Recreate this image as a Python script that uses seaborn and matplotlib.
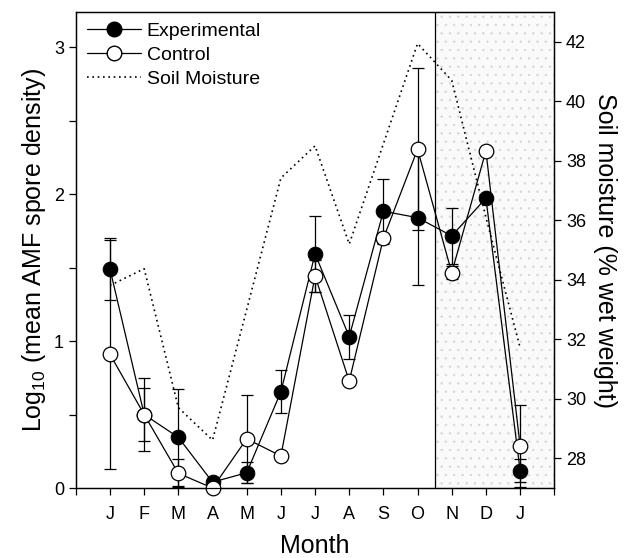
import numpy as np
import pandas as pd
import matplotlib
matplotlib.use("Agg")
import matplotlib.pyplot as plt
from matplotlib.lines import Line2D
import seaborn as sns

months = ['J', 'F', 'M', 'A', 'M', 'J', 'J', 'A', 'S', 'O', 'N', 'D', 'J']
exp_mean = [1.49, 0.50, 0.345, 0.04, 0.104, 0.655, 1.594, 1.03, 1.884, 1.84, 1.716, 1.973, 0.118]
exp_err = [0.21, 0.25, 0.33, 0.0, 0.07, 0.145, 0.26, 0.15, 0.22, 0.46, 0.19, 0.0, 0.08]
ctrl_mean = [0.91, 0.50, 0.10, 0.0, 0.335, 0.218, 1.444, 0.728, 1.70, 2.306, 1.465, 2.295, 0.288]
ctrl_err = [0.78, 0.18, 0.095, 0.0, 0.30, 0.0, 0.11, 0.0, 0.03, 0.55, 0.045, 0.0, 0.28]
moisture = [33.81, 34.37, 29.7, 28.61, 33.0, 37.42, 38.5, 35.2, 38.57, 41.94, 40.7, 36.1, 31.72]

sns.set_style("ticks")
plt.rcParams['font.family'] = ['Liberation Sans', 'DejaVu Sans']
plt.rcParams['mathtext.fontset'] = 'custom'
plt.rcParams['mathtext.rm'] = 'Liberation Sans'
plt.rcParams['hatch.linewidth'] = 0.5
plt.rcParams['hatch.color'] = '#d6d6d6'
for k in ['text.color', 'axes.labelcolor', 'xtick.color', 'ytick.color', 'axes.edgecolor']:
    plt.rcParams[k] = 'black'

x = np.arange(len(months))
df = pd.DataFrame({'x': x, 'exp': exp_mean, 'ctrl': ctrl_mean, 'moist': moisture})

fig = plt.figure(figsize=(6.32, 5.58), dpi=100)
ax = fig.add_axes([0.120, 0.1254, 0.757, 0.8531])

# shaded region
ax.axvspan(9.5, 13, facecolor='#fafafa', edgecolor='#d6d6d6', hatch='..', linewidth=0, zorder=0)
ax.axvline(9.5, color='black', lw=0.9, zorder=1)

ax.errorbar(x, exp_mean, yerr=exp_err, fmt='none', ecolor='black', elinewidth=0.9,
            capsize=4, capthick=0.9, zorder=2, clip_on=False)
ax.errorbar(x, ctrl_mean, yerr=ctrl_err, fmt='none', ecolor='black', elinewidth=0.9,
            capsize=4, capthick=0.9, zorder=2, clip_on=False)

sns.lineplot(data=df, x='x', y='exp', ax=ax, color='black', lw=0.9, marker='o',
             markersize=10.5, markerfacecolor='black', markeredgecolor='black',
             zorder=4, clip_on=False)
sns.lineplot(data=df, x='x', y='ctrl', ax=ax, color='black', lw=0.9, marker='o',
             markersize=10.5, markerfacecolor='white', markeredgecolor='black',
             markeredgewidth=0.9, zorder=5, clip_on=False)

ax.set_xlim(-1, 13)
ax.set_ylim(0, 3.24)
ax.set_xticks(np.arange(-1, 14))
ax.set_xticklabels([''] + months + [''])
ax.set_yticks([0, 1, 2, 3])
ax.set_yticks([0.5, 1.5, 2.5], minor=True)
ax.tick_params(axis='both', which='major', direction='out', length=5, width=0.9,
               labelsize=13, color='black')
ax.tick_params(axis='y', which='minor', direction='out', length=5, width=0.9)
ax.tick_params(axis='x', pad=8)
ax.set_xlabel('Month', fontsize=18, labelpad=8)
ax.set_ylabel(r'Log$_{\mathregular{10}}$ (mean AMF spore density)', fontsize=18, labelpad=4)
for s in ax.spines.values():
    s.set_linewidth(0.9)
    s.set_color('black')

ax2 = ax.twinx()
sns.lineplot(data=df, x='x', y='moist', ax=ax2, color='black', lw=1.2,
             linestyle=(0, (1, 2.2)), zorder=3)
ax2.set_ylim(27.0, 43.0)
ax2.set_yticks(np.arange(28, 43, 2))
ax2.tick_params(axis='y', direction='out', length=5, width=0.9, labelsize=13)
ax2.set_ylabel('Soil moisture (% wet weight)', fontsize=18, rotation=270, labelpad=22)
ax2.set_xlabel('')
for s in ax2.spines.values():
    s.set_linewidth(0.9)
    s.set_color('black')

handles = [
    Line2D([], [], color='black', lw=0.9, marker='o', markersize=10.5,
           markerfacecolor='black', markeredgecolor='black'),
    Line2D([], [], color='black', lw=0.9, marker='o', markersize=10.5,
           markerfacecolor='white', markeredgecolor='black'),
    Line2D([], [], color='black', lw=1.2, linestyle=(0, (1, 2.2))),
]
ax2.legend(handles, ['Experimental', 'Control', 'Soil Moisture'], loc='upper left',
           frameon=False, fontsize=14, handlelength=2.8, handletextpad=0.3,
           labelspacing=0.32, borderaxespad=0.15, bbox_to_anchor=(0.0, 1.0))

fig.savefig('out.png', dpi=100)
